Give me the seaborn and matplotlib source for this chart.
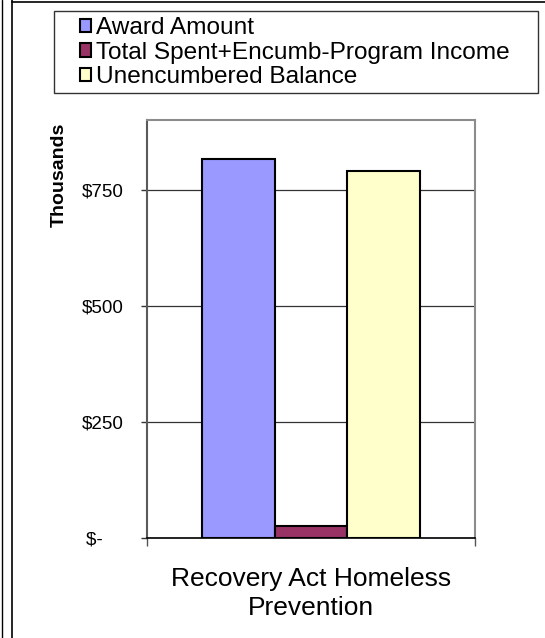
import textwrap
import pandas as pd
import matplotlib.pyplot as plt
import seaborn as sns
from matplotlib.lines import Line2D
from matplotlib.patches import Rectangle

# data (values in thousands of dollars)
program = "Recovery Act Homeless Prevention"
series = ["Award Amount", "Total Spent+Encumb-Program Income", "Unencumbered Balance"]
values = [817, 26, 791]
colors = ["#9999FF", "#993366", "#FFFFCC"]
yticks = [0, 250, 500, 750]
ytick_labels = ["$-", "$250", "$500", "$750"]

sns.set_style("white")
plt.rcParams["font.family"] = ["Liberation Sans", "DejaVu Sans"]
plt.rcParams["text.color"] = "black"
plt.rcParams["xtick.color"] = "black"
plt.rcParams["ytick.color"] = "black"
plt.rcParams["axes.labelcolor"] = "black"

df = pd.DataFrame({"program": [program] * len(series), "series": series, "value": values})

W, H = 545, 638
fig = plt.figure(figsize=(W / 100, H / 100), dpi=100)
ax = fig.add_axes([147 / W, 1 - 538 / H, 328 / W, 418 / H])

sns.barplot(data=df, x="program", y="value", hue="series", hue_order=series,
            palette=colors, saturation=1, width=0.665, gap=0,
            edgecolor="black", linewidth=1.5, ax=ax)

ax.set_xlim(-0.5, 0.5)
ax.set_ylim(0, 900)

# y axis
ax.set_yticks(yticks, [lab if lab != "$-" else lab + "    " for lab in ytick_labels])
ax.tick_params(axis="y", direction="out", length=4.5, width=1, color="#333333",
               labelsize=13.5, pad=12, left=True)
ax.yaxis.grid(True, color="#333333", linewidth=0.9)
ax.set_axisbelow(True)
ax.set_ylabel("Thousands", fontsize=14, fontweight="bold")
ax.yaxis.set_label_coords(-0.242, 0.868)

# x axis
ax.set_xticks([0], [textwrap.fill(program, 22)])
ax.tick_params(axis="x", which="major", length=0, labelsize=19, pad=21)
for lab in ax.get_xticklabels():
    lab.set_linespacing(1.25)
ax.set_xticks([-0.5, 0.5], minor=True)
ax.tick_params(axis="x", which="minor", direction="out", length=6, width=1,
               color="#555555", bottom=True)
ax.set_xlabel("")

for side in ["top", "right"]:
    ax.spines[side].set_color("#8c8c8c")
    ax.spines[side].set_linewidth(1.5)
ax.spines["left"].set_color("#5a5a5a")
ax.spines["left"].set_linewidth(1.5)
ax.spines["bottom"].set_color("black")
ax.spines["bottom"].set_linewidth(1.2)

# legend (frame drawn separately)
handles, labels = ax.get_legend_handles_labels()
ax.get_legend().remove()
for h in handles:
    h.set_edgecolor("black")
    h.set_linewidth(1.5)
fig.legend(handles, labels, loc="upper left", bbox_to_anchor=(80 / W, 1 - 17 / H),
           frameon=False, fontsize=17.6, handlelength=0.47, handleheight=0.47,
           handletextpad=0.2, labelspacing=0.11, borderpad=0, borderaxespad=0)
fig.add_artist(Rectangle((54 / W, 1 - 93 / H), (538 - 54) / W, 82 / H,
                         transform=fig.transFigure, fill=False,
                         edgecolor="#333333", linewidth=1))

# chart border lines
fig.add_artist(Line2D([1.5 / W, 1.5 / W], [0, 1], transform=fig.transFigure, color="black", lw=1))
fig.add_artist(Line2D([11.5 / W, 11.5 / W], [0, 1], transform=fig.transFigure, color="black", lw=1.2))
fig.add_artist(Line2D([11.5 / W, 1], [1 - 1.5 / H, 1 - 1.5 / H], transform=fig.transFigure,
                      color="black", lw=1.2))

fig.savefig("out.png", dpi=100)
